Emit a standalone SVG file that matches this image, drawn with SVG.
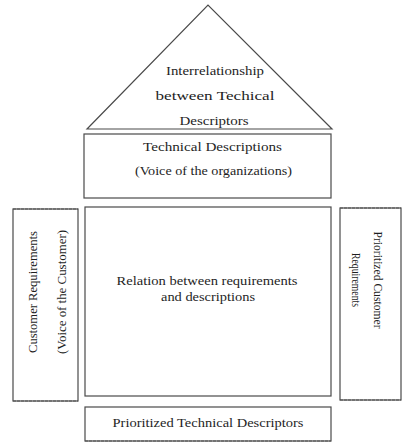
<svg xmlns="http://www.w3.org/2000/svg" width="402" height="442" viewBox="0 0 402 442">
  <style>
    .box { fill: #ffffff; stroke: #4a4a4a; stroke-width: 1.2; }
    .dash { fill: none; stroke: #555555; stroke-width: 1.2; stroke-dasharray: 3 1; }
    .t { font-family: "Liberation Serif", "Times New Roman", serif; font-size: 13px; fill: #1e1e1e; text-anchor: middle; }
  </style>
  <rect width="402" height="442" fill="#ffffff"/>
  <g id="roof">
    <polygon class="box" points="87,129 208,5 332,129"/>
    <text class="t" x="215" y="75" textLength="98" lengthAdjust="spacingAndGlyphs">Interrelationship</text>
    <text class="t" x="215" y="100" textLength="119" lengthAdjust="spacingAndGlyphs">between Techical</text>
    <text class="t" x="214" y="125" textLength="69" lengthAdjust="spacingAndGlyphs">Descriptors</text>
  </g>
  <g id="technical-descriptions">
    <rect class="box" x="84" y="134" width="247" height="64"/>
    <text class="t" x="212.5" y="151" textLength="139" lengthAdjust="spacingAndGlyphs">Technical Descriptions</text>
    <text class="t" x="213.5" y="175" textLength="157" lengthAdjust="spacingAndGlyphs">(Voice of the organizations)</text>
  </g>
  <g id="customer-requirements">
    <rect class="box" x="13" y="209" width="65" height="192"/>
    <line class="dash" x1="13" y1="209" x2="78" y2="209"/>
    <line class="dash" x1="13" y1="401" x2="78" y2="401"/>
    <text class="t" transform="translate(37,292) rotate(-90)" x="0" y="0" textLength="122" lengthAdjust="spacingAndGlyphs">Customer Requirements</text>
    <text class="t" transform="translate(66,292) rotate(-90)" x="0" y="0" textLength="124" lengthAdjust="spacingAndGlyphs">(Voice of the Customer)</text>
  </g>
  <g id="relation-matrix">
    <rect class="box" x="85" y="207" width="246" height="189"/>
    <text class="t" x="207" y="285" textLength="181" lengthAdjust="spacingAndGlyphs">Relation between requirements</text>
    <text class="t" x="208" y="301" textLength="94" lengthAdjust="spacingAndGlyphs">and descriptions</text>
  </g>
  <g id="prioritized-customer-requirements">
    <rect class="box" x="340" y="208" width="61" height="192"/>
    <line class="dash" x1="340" y1="208" x2="401" y2="208"/>
    <line class="dash" x1="340" y1="400" x2="401" y2="400"/>
    <text class="t" transform="translate(374,280) rotate(90)" x="0" y="0" textLength="97" lengthAdjust="spacingAndGlyphs">Prioritized  Customer</text>
    <text class="t" transform="translate(352,280) rotate(90)" x="0" y="0" textLength="54" lengthAdjust="spacingAndGlyphs">Requirements</text>
  </g>
  <g id="prioritized-technical-descriptors">
    <rect class="box" x="85" y="407" width="246" height="34"/>
    <line class="dash" x1="85" y1="441" x2="331" y2="441"/>
    <text class="t" x="208" y="427" textLength="191" lengthAdjust="spacingAndGlyphs">Prioritized  Technical Descriptors</text>
  </g>
  <g id="connectors"></g>
</svg>
